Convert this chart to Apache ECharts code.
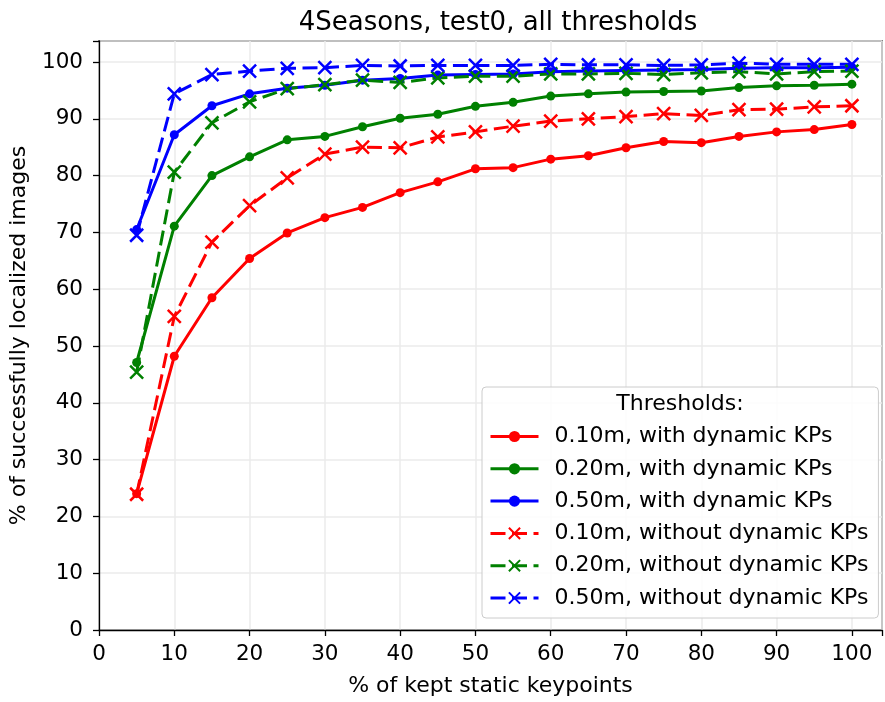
<!DOCTYPE html>
<html>
<head>
<meta charset="utf-8">
<script src="https://cdn.jsdelivr.net/npm/echarts@6/dist/echarts.min.js"></script>
<style>
html,body{margin:0;padding:0;background:#fff;}
#chart{width:885px;height:702px;}
</style>
</head>
<body>
<div id="chart"></div>
<script>
const keptPercent = [5,10,15,20,25,30,35,40,45,50,55,60,65,70,75,80,85,90,95,100];
const with010 = [24.0,48.2,58.5,65.4,69.9,72.6,74.4,77.0,78.9,81.2,81.4,82.9,83.5,84.9,86.0,85.8,86.9,87.7,88.1,89.0];
const with020 = [47.1,71.1,80.0,83.3,86.3,86.9,88.6,90.1,90.8,92.2,92.9,94.0,94.4,94.7,94.8,94.9,95.5,95.8,95.9,96.1];
const with050 = [70.5,87.2,92.3,94.4,95.4,95.9,96.8,97.1,97.7,97.8,97.9,98.3,98.4,98.5,98.6,98.7,98.9,99.0,99.0,99.1];
const without010 = [23.9,55.2,68.3,74.7,79.6,83.8,85.0,84.9,86.8,87.7,88.7,89.6,90.0,90.4,90.9,90.6,91.6,91.7,92.1,92.3];
const without020 = [45.4,80.6,89.3,93.0,95.3,96.0,96.8,96.4,97.2,97.5,97.5,97.9,97.9,98.0,97.8,98.1,98.3,97.9,98.3,98.4];
const without050 = [69.5,94.4,97.8,98.4,98.9,99.0,99.4,99.3,99.4,99.4,99.4,99.6,99.5,99.5,99.4,99.5,99.8,99.6,99.6,99.6];
const xTicks = [0,10,20,30,40,50,60,70,80,90,100];
const yTicks = [0,10,20,30,40,50,60,70,80,90,100];

const FONT = 'DejaVu Sans';
const FS = 21.5;
const FL = 22;
const xMark = 'path://M0,0L10,10M10,0L0,10';

function pairs(vals){ return keptPercent.map((x,i)=>[x, vals[i]]); }

function solidSeries(name, color, vals){
  return {
    name, type:'line', data: pairs(vals),
    symbol:'circle', symbolSize:9,
    lineStyle:{color, width:3, type:'solid'},
    itemStyle:{color, borderColor:color, borderWidth:0},
    emphasis:{disabled:true}, animation:false
  };
}
function dashedSeries(name, color, vals){
  return {
    name, type:'line', data: pairs(vals),
    symbol: xMark, symbolSize:13, symbolKeepAspect:true,
    lineStyle:{color, width:3, type:[15,6.5]},
    itemStyle:{color:'rgba(0,0,0,0)', borderColor:color, borderWidth:2.5},
    emphasis:{disabled:true}, animation:false
  };
}

const chart = echarts.init(document.getElementById('chart'), null, {renderer:'canvas'});
chart.setOption({
  backgroundColor:'#fff',
  animation:false,
  textStyle:{fontFamily:FONT},
  title:{
    text:'4Seasons, test0, all thresholds',
    left: 493, top: 5, textAlign:'center',
    textStyle:{fontFamily:FONT, fontSize:26, fontWeight:'normal', color:'#000'}
  },
  grid:{left:98, right:1, top:41, bottom:71, show:true, borderColor:'#000', borderWidth:1.3, backgroundColor:'transparent'},
  xAxis:{
    type:'value', min:0, max:104, interval:10,
    name:'% of kept static keypoints', nameLocation:'middle', nameGap:45,
    nameTextStyle:{fontFamily:FONT, fontSize:FL, color:'#000'},
    axisLine:{show:true, lineStyle:{color:'#000', width:1.3}},
    axisTick:{show:true, length:6, lineStyle:{color:'#000', width:1.3}},
    axisLabel:{fontFamily:FONT, fontSize:FS, color:'#000', margin:13,
      formatter: v => xTicks.includes(v) ? String(v) : ''},
    splitLine:{show:true, lineStyle:{color:'#ebebeb', width:1.5}}
  },
  yAxis:{
    type:'value', min:0, max:103.7, interval:10,
    name:'% of successfully localized images', nameLocation:'middle', nameGap:69,
    nameTextStyle:{fontFamily:FONT, fontSize:FL, color:'#000'},
    axisLine:{show:true, lineStyle:{color:'#000', width:1.3}},
    axisTick:{show:true, length:6, lineStyle:{color:'#000', width:1.3}},
    axisLabel:{fontFamily:FONT, fontSize:FS, color:'#000', margin:16,
      formatter: v => yTicks.includes(v) ? String(v) : ''},
    splitLine:{show:true, lineStyle:{color:'#ebebeb', width:1.5}}
  },
  legend:{
    orient:'vertical', left:482, top:387,
    padding:[38.5,10,9,7],
    itemWidth:48, itemHeight:14, itemGap:10.3,
    backgroundColor:'rgba(255,255,255,0.85)',
    borderColor:'#cccccc', borderWidth:1, borderRadius:4,
    lineStyle:{width:3},
    textStyle:{fontFamily:FONT, fontSize:FL, color:'#000', padding:[0,0,0,11]},
    data:[
      '0.10m, with dynamic KPs','0.20m, with dynamic KPs','0.50m, with dynamic KPs',
      '0.10m, without dynamic KPs','0.20m, without dynamic KPs','0.50m, without dynamic KPs'
    ]
  },
  graphic:[{
    type:'text', x: 680, y: 404, z: 100,
    style:{text:'Thresholds:', font: FL + 'px "DejaVu Sans"', fill:'#000', textAlign:'center', textVerticalAlign:'middle'}
  }],
  series:[
    solidSeries('0.10m, with dynamic KPs','#ff0000',with010),
    solidSeries('0.20m, with dynamic KPs','#008000',with020),
    solidSeries('0.50m, with dynamic KPs','#0000ff',with050),
    dashedSeries('0.10m, without dynamic KPs','#ff0000',without010),
    dashedSeries('0.20m, without dynamic KPs','#008000',without020),
    dashedSeries('0.50m, without dynamic KPs','#0000ff',without050)
  ]
});
</script>
</body>
</html>
